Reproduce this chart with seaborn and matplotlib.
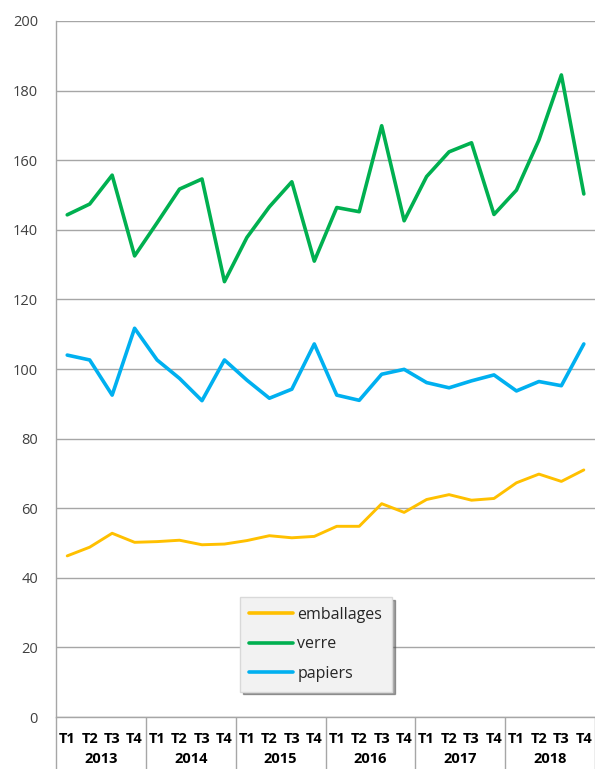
import numpy as np
import pandas as pd
import matplotlib
matplotlib.use("Agg")
import matplotlib.pyplot as plt
import seaborn as sns

sns.set_theme(style="white")
plt.rcParams['font.family'] = ['Open Sans', 'DejaVu Sans']

# data (quarterly, 2013-2018)
years = ['2013', '2014', '2015', '2016', '2017', '2018']
quarters = ['T1', 'T2', 'T3', 'T4']

emballages = [46.3, 48.8, 52.8, 50.2, 50.4, 50.8, 49.5, 49.7,
              50.7, 52.1, 51.5, 51.9, 54.8, 54.8, 61.3, 58.8,
              62.5, 63.9, 62.3, 62.8, 67.3, 69.8, 67.7, 71.0]
verre = [144.3, 147.4, 155.7, 132.5, 142.0, 151.7, 154.6, 125.1,
         137.8, 146.6, 153.8, 131.0, 146.4, 145.2, 169.9, 142.6,
         155.3, 162.4, 165.0, 144.4, 151.4, 165.8, 184.5, 150.3]
papiers = [104.0, 102.6, 92.5, 111.7, 102.6, 97.3, 90.9, 102.6,
           96.8, 91.6, 94.2, 107.2, 92.5, 91.0, 98.5, 99.9,
           96.1, 94.6, 96.6, 98.3, 93.7, 96.4, 95.2, 107.2]

series = {'emballages': emballages, 'verre': verre, 'papiers': papiers}
colors = {'emballages': '#FFC000', 'verre': '#00B050', 'papiers': '#00B0F0'}

n = len(years) * len(quarters)
df = pd.concat([
    pd.DataFrame({'idx': np.arange(n), 'valeur': vals, 'serie': name})
    for name, vals in series.items()
])

fig = plt.figure(figsize=(5.95, 7.69), dpi=100)
ax = fig.add_axes([0.0941, 0.0676, 0.906, 0.9051])

sns.lineplot(data=df, x='idx', y='valeur', hue='serie', palette=colors,
             hue_order=list(series.keys()), linewidth=2.6, ax=ax, legend=True)
ax.lines[0].set_linewidth(2.1)

ax.set_xlim(-0.5, n - 0.5)
ax.set_ylim(0, 200)
ax.set_yticks(np.arange(0, 201, 20))
ax.yaxis.grid(True, color='#a6a6a6', linewidth=1)
ax.set_axisbelow(True)
for s in ['top', 'right']:
    ax.spines[s].set_visible(False)
for s in ['left', 'bottom']:
    ax.spines[s].set_color('#a6a6a6')
    ax.spines[s].set_linewidth(1)

ax.tick_params(axis='y', length=0, pad=13, labelsize=10.5, labelcolor='#404040')
ax.set_xticks(np.arange(n))
ax.set_xticklabels(quarters * len(years), fontweight='bold', fontsize=10.5, color='black')
ax.tick_params(axis='x', length=0, pad=11)
ax.set_xlabel('')
ax.set_ylabel('')

# year groups below the axis
trans = ax.get_xaxis_transform()
for k, yr in enumerate(years):
    ax.text(4 * k + 1.5, -0.061, yr, transform=trans, ha='center', va='center',
            fontweight='bold', fontsize=10.5, color='black')
for k in range(len(years) + 1):
    ax.vlines(4 * k - 0.5, -0.08, 0, transform=trans, clip_on=False,
              color='#a6a6a6', linewidth=1)

leg = ax.legend(loc='upper left', bbox_to_anchor=(0.341, 0.172), fontsize=11.5,
                frameon=True, fancybox=False, shadow=True, handlelength=2.7,
                handletextpad=0.3, labelspacing=0.85, borderpad=0.6,
                borderaxespad=0)
leg.get_frame().set_facecolor('#f2f2f2')
leg.get_frame().set_edgecolor('#d9d9d9')
for t in leg.get_texts():
    t.set_color('#262626')

fig.savefig('out.png', dpi=100)
